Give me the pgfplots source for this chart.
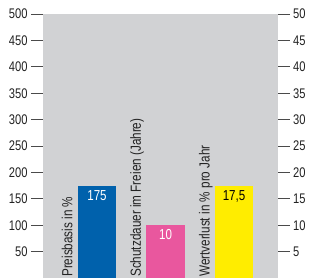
\documentclass[border=0pt]{standalone}
\usepackage{fontspec}
\setmainfont{Liberation Sans}[FakeStretch=0.8]
\usepackage{pgfplots}
\pgfplotsset{compat=1.18}
\definecolor{bgray}{HTML}{D1D2D4}
\definecolor{cblue}{HTML}{0061AC}
\definecolor{cpink}{HTML}{E9579E}
\definecolor{cyellow}{HTML}{FFED00}
\definecolor{tickgray}{HTML}{4A4A4A}
\definecolor{labgray}{HTML}{222222}
\begin{document}
\begin{tikzpicture}
\pgfplotsset{
  common/.style={
    scale only axis, width=234.6bp, height=264bp,
    xmin=0.212, xmax=3.636,
    axis x line=none, y axis line style={draw=none},
    tick align=outside, major tick length=12bp,
    tick style={draw=tickgray, line width=0.9bp},
    yticklabel style={font=\fontsize{14}{14}\selectfont, text=labgray},
    /pgf/number format/assume math mode=true,
    clip=false,
  }
}
\begin{axis}[common,
  ymin=0, ymax=500, ytick={50,100,...,500},
  axis y line*=left,
  axis background/.style={fill=bgray},
]
\addplot[ybar, bar width=0.555, fill=cblue, draw=none,
  nodes near coords={175}, nodes near coords align=below,
  every node near coord/.append style={text=white, font=\fontsize{14.5}{14.5}\selectfont, yshift=-1bp}]
  coordinates {(1,175)};
\addplot[ybar, bar width=0.555, fill=cpink, draw=none,
  nodes near coords={10}, nodes near coords align=below,
  every node near coord/.append style={text=white, font=\fontsize{14.5}{14.5}\selectfont, yshift=-1bp}]
  coordinates {(2,100)};
\addplot[ybar, bar width=0.555, fill=cyellow, draw=none,
  nodes near coords={17,5}, nodes near coords align=below,
  every node near coord/.append style={text=black, font=\fontsize{14.5}{14.5}\selectfont, yshift=-1bp}]
  coordinates {(3,175)};
\node[xshift=-5.5bp, yshift=1bp, rotate=90, anchor=base west, inner sep=0pt, text=labgray, font=\fontsize{14.7}{14.7}\selectfont] at (axis cs:0.7225,0) {Preisbasis in \%};
\node[xshift=-5.5bp, yshift=1bp, rotate=90, anchor=base west, inner sep=0pt, text=labgray, font=\fontsize{14.7}{14.7}\selectfont] at (axis cs:1.7225,0) {Schutzdauer im Freien (Jahre)};
\node[xshift=-5.5bp, yshift=1bp, rotate=90, anchor=base west, inner sep=0pt, text=labgray, font=\fontsize{14.7}{14.7}\selectfont] at (axis cs:2.7225,0) {Wertverlust in \% pro Jahr};
\end{axis}
\begin{axis}[common,
  ymin=0, ymax=50, ytick={5,10,...,50},
  axis y line*=right,
]
\addplot[draw=none] coordinates {(1,0)};
\end{axis}
\pgfresetboundingbox
\path[use as bounding box] (-43bp,0) rectangle (275bp,278bp);
\end{tikzpicture}
\end{document}
